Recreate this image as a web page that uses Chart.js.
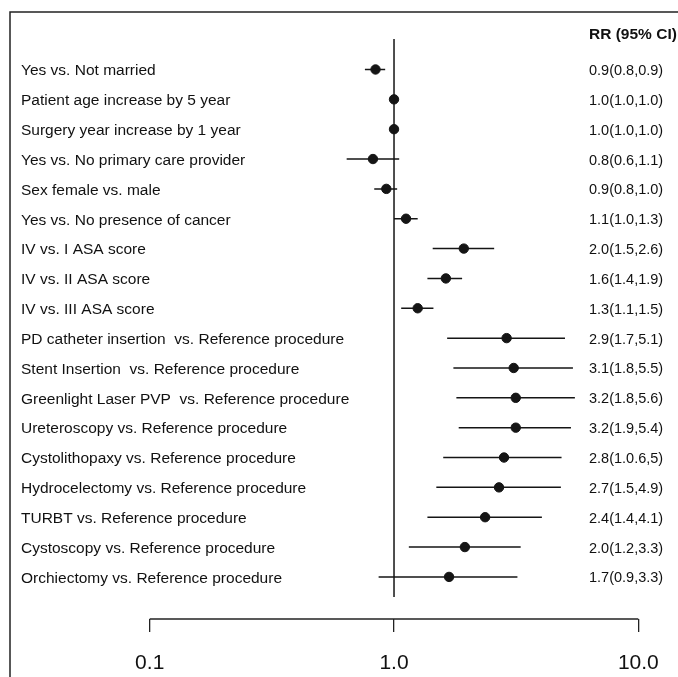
<!DOCTYPE html>
<html>
<head>
<meta charset="utf-8">
<script src="https://cdn.jsdelivr.net/npm/chart.js@4"></script>
<style>
  html, body { margin: 0; padding: 0; background: #fff; }
  canvas { display: block; }
</style>
</head>
<body>
<canvas id="forestChart" width="678" height="677"></canvas>
<script>
// rows, top to bottom
var labels = [
  'Yes vs. Not married',
  'Patient age increase by 5 year',
  'Surgery year increase by 1 year',
  'Yes vs. No primary care provider',
  'Sex female vs. male',
  'Yes vs. No presence of cancer',
  'IV vs. I ASA score',
  'IV vs. II ASA score',
  'IV vs. III ASA score',
  'PD catheter insertion  vs. Reference procedure',
  'Stent Insertion  vs. Reference procedure',
  'Greenlight Laser PVP  vs. Reference procedure',
  'Ureteroscopy vs. Reference procedure',
  'Cystolithopaxy vs. Reference procedure',
  'Hydrocelectomy vs. Reference procedure',
  'TURBT vs. Reference procedure',
  'Cystoscopy vs. Reference procedure',
  'Orchiectomy vs. Reference procedure'
];
var rrText = [
  '0.9(0.8,0.9)', '1.0(1.0,1.0)', '1.0(1.0,1.0)', '0.8(0.6,1.1)', '0.9(0.8,1.0)',
  '1.1(1.0,1.3)', '2.0(1.5,2.6)', '1.6(1.4,1.9)', '1.3(1.1,1.5)', '2.9(1.7,5.1)',
  '3.1(1.8,5.5)', '3.2(1.8,5.6)', '3.2(1.9,5.4)', '2.8(1.0.6,5)', '2.7(1.5,4.9)',
  '2.4(1.4,4.1)', '2.0(1.2,3.3)', '1.7(0.9,3.3)'
];
// values as plotted
var rr    = [0.84, 1.0, 1.0, 0.82, 0.93, 1.12, 1.93, 1.63, 1.25, 2.89, 3.09, 3.15, 3.15, 2.82, 2.69, 2.36, 1.95, 1.68];
var lower = [0.76, 1.0, 1.0, 0.64, 0.83, 1.0, 1.44, 1.37, 1.07, 1.65, 1.75, 1.80, 1.84, 1.59, 1.49, 1.37, 1.15, 0.865];
var upper = [0.92, 1.0, 1.0, 1.05, 1.03, 1.25, 2.57, 1.90, 1.45, 5.01, 5.40, 5.50, 5.30, 4.85, 4.82, 4.03, 3.30, 3.20];
var xTicks = [0.1, 1, 10];
var header = 'RR (95% CI)';

var ink = '#151515';
var font = '"Liberation Sans", Arial, sans-serif';

var datasets = [];

// reference line at 1
datasets.push({
  type: 'line',
  data: [{x: 1, y: -0.02}, {x: 1, y: 18.67}],
  borderColor: ink,
  borderWidth: 1.5,
  pointRadius: 0
});

// confidence intervals
for (var i = 0; i < rr.length; i++) {
  datasets.push({
    type: 'line',
    data: [{x: lower[i], y: i + 1}, {x: upper[i], y: i + 1}],
    borderColor: ink,
    borderWidth: 1.5,
    pointRadius: 0
  });
}

// point estimates
datasets.push({
  type: 'scatter',
  data: rr.map(function (v, i) { return {x: v, y: i + 1}; }),
  backgroundColor: ink,
  borderColor: ink,
  pointRadius: 4.7,
  pointStyle: 'circle'
});

var textPlugin = {
  id: 'forestText',
  afterDraw: function (chart) {
    var c = chart.ctx;
    var xs = chart.scales.x, ys = chart.scales.y;
    var area = chart.chartArea;
    c.save();
    c.strokeStyle = '#222';
    c.lineWidth = 1.5;
    // frame (top and left edge)
    c.beginPath();
    c.moveTo(10, 677);
    c.lineTo(10, 12);
    c.lineTo(678, 12);
    c.stroke();
    // axis bracket
    c.lineWidth = 1.3;
    c.beginPath();
    c.moveTo(xs.getPixelForValue(0.1), area.bottom);
    c.lineTo(xs.getPixelForValue(10), area.bottom);
    c.stroke();

    c.fillStyle = '#111';
    c.textBaseline = 'middle';
    c.textAlign = 'left';
    labels.forEach(function (lab, i) {
      var y = ys.getPixelForValue(i + 1) + 1.5;
      c.font = '15.5px ' + font;
      c.fillText(lab, 21, y);
      c.font = '14.5px ' + font;
      c.fillText(rrText[i], 589, y);
    });
    c.font = 'bold 15.5px ' + font;
    c.fillText(header, 589, 35);
    c.restore();
  }
};

var ctx = document.getElementById('forestChart').getContext('2d');
var forest = new Chart(ctx, {
  type: 'scatter',
  data: { datasets: datasets },
  options: {
    responsive: false,
    animation: false,
    layout: { padding: { left: 10, right: 0, top: 12, bottom: 0 } },
    plugins: {
      legend: { display: false },
      tooltip: { enabled: false }
    },
    scales: {
      x: {
        type: 'logarithmic',
        position: 'bottom',
        min: 0.0268,
        max: 13.06,
        afterBuildTicks: function (scale) {
          scale.ticks = xTicks.map(function (v) { return {value: v}; });
        },
        afterFit: function (scale) { scale.height = 58; },
        border: { display: false },
        grid: {
          drawOnChartArea: false,
          drawTicks: true,
          tickLength: 13,
          color: '#222',
          lineWidth: 1.3
        },
        ticks: {
          autoSkip: false,
          maxRotation: 0,
          padding: 19,
          color: '#111',
          font: { family: font, size: 21 },
          callback: function (v) { return Number(v).toFixed(1); }
        }
      },
      y: {
        type: 'linear',
        display: false,
        reverse: true,
        min: -0.926,
        max: 19.41
      }
    }
  },
  plugins: [textPlugin]
});
</script>
</body>
</html>
